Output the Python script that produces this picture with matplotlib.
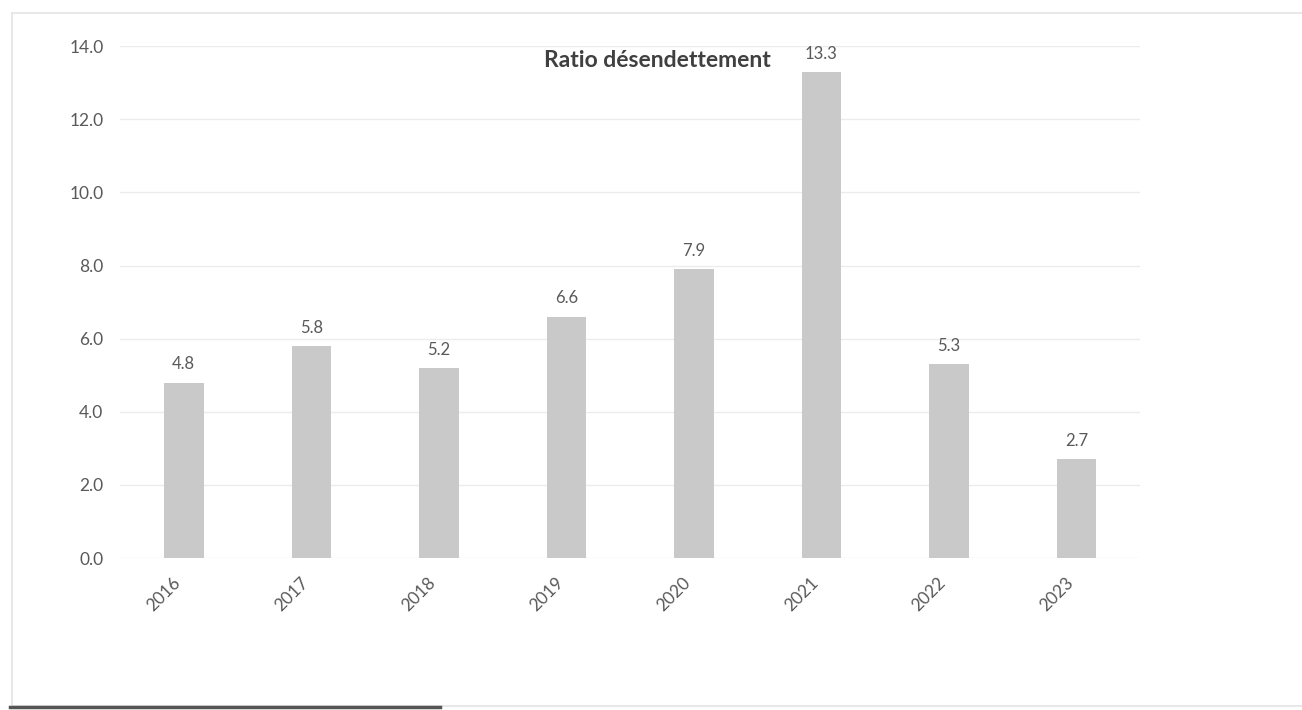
import matplotlib.pyplot as plt
from matplotlib.lines import Line2D
from matplotlib.transforms import ScaledTranslation

years = ["2016", "2017", "2018", "2019", "2020", "2021", "2022", "2023"]
ratios = [4.8, 5.8, 5.2, 6.6, 7.9, 13.3, 5.3, 2.7]
yticks = [0, 2, 4, 6, 8, 10, 12, 14]

plt.rcParams['font.family'] = ['Lato', 'DejaVu Sans']
txt = '#595959'

fig = plt.figure(figsize=(13.02, 7.10), dpi=100)
ax = fig.add_axes([0.0922, 0.214, 0.7834, 0.721])

x = range(len(years))
bars = ax.bar(x, ratios, width=0.31, color='#c9c9c9', zorder=2)
for b, v in zip(bars, ratios):
    ax.text(b.get_x() + b.get_width() / 2, v + 0.28, f"{v:.1f}",
            ha='center', va='bottom', fontsize=12, color=txt)

ax.set_xlim(-0.5, len(years) - 0.5)
ax.set_ylim(0, 14)
ax.set_yticks(yticks)
ax.set_yticklabels([f"{t:.1f}" for t in yticks], fontsize=12.5, color=txt)
ax.set_xticks(list(x))
ax.set_xticklabels(years, rotation=45, ha='right', fontsize=12.5, color=txt)
shift = ScaledTranslation(8 / 100, 0, fig.dpi_scale_trans)
for lab in ax.get_xticklabels():
    lab.set_transform(lab.get_transform() + shift)
ax.tick_params(length=0, pad=12)
ax.tick_params(axis='y', pad=12)
ax.yaxis.grid(True, color='#ececec', linewidth=1, zorder=0)
for s in ax.spines.values():
    s.set_visible(False)

fig.text(0.505, 0.915, "Ratio désendettement", ha='center', va='center',
         fontsize=16.5, fontweight='bold', color='#404040')

# outer chart frame
fig.add_artist(Line2D([0.009, 1.0], [0.982, 0.982], color='#e4e4e4', lw=1.2))
fig.add_artist(Line2D([0.009, 0.009], [0.005, 0.982], color='#e4e4e4', lw=1.2))
fig.add_artist(Line2D([0.009, 1.0], [0.006, 0.006], color='#e8e8e8', lw=1.5))
fig.add_artist(Line2D([0.008, 0.338], [0.004, 0.004], color='#555555', lw=2.5))

fig.savefig("out.png", dpi=100)
